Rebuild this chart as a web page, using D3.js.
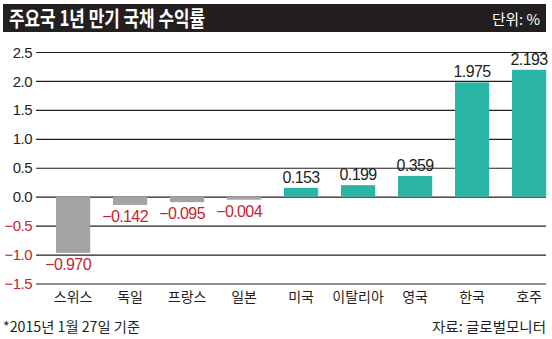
<!DOCTYPE html>
<html>
<head>
<meta charset="utf-8">
<script src="https://cdn.jsdelivr.net/npm/d3@7"></script>
<style>
  html, body { margin: 0; padding: 0; background: #fff; }
  svg { display: block; }
  .num { font-family: "Liberation Sans", Arial, sans-serif; }
  .kr { font-family: "Noto Sans CJK KR", "Noto Sans", sans-serif; }
</style>
</head>
<body>
<svg id="chart" width="552" height="339"></svg>
<script>
const titleText = "주요국 1년 만기 국채 수익률";
const unitText = "단위: %";
const noteText = "*2015년 1월 27일 기준";
const sourceText = "자료: 글로벌모니터";

const categories = ["스위스", "독일", "프랑스", "일본", "미국", "이탈리아", "영국", "한국", "호주"];
const values = [-0.970, -0.142, -0.095, -0.004, 0.153, 0.199, 0.359, 1.975, 2.193];
const valueLabels = ["−0.970", "−0.142", "−0.095", "−0.004", "0.153", "0.199", "0.359", "1.975", "2.193"];
const yTicks = [-1.5, -1.0, -0.5, 0.0, 0.5, 1.0, 1.5, 2.0, 2.5];

const W = 552, H = 339;
const dark = "#231f20";
const red = "#c1272d";
const teal = "#2ab5a6";
const gray = "#a3a3a3";

const svg = d3.select("#chart");

// Title bar
svg.append("rect").attr("x", 3).attr("y", 4).attr("width", 543).attr("height", 28).attr("fill", dark);
svg.append("text").attr("class", "kr")
  .attr("x", 9).attr("y", 26)
  .attr("font-size", 21).attr("font-weight", 700).attr("fill", "#fff")
  .attr("textLength", 196).attr("lengthAdjust", "spacingAndGlyphs")
  .text(titleText);
svg.append("text").attr("class", "kr")
  .attr("x", 540).attr("y", 25).attr("text-anchor", "end")
  .attr("font-size", 15).attr("fill", "#fff")
  .attr("textLength", 48).attr("lengthAdjust", "spacingAndGlyphs")
  .text(unitText);

// Scales
const y = d3.scaleLinear().domain([-1.5, 2.5]).range([283.5, 52]);
const x = d3.scaleBand().domain(categories).range([44.6, 557.6]).paddingInner(0.4).paddingOuter(0.2);
const gridX0 = 36, gridX1 = 546;

// Y axis with gridlines
const yAxis = svg.append("g").attr("transform", `translate(${gridX0},0)`)
  .call(d3.axisLeft(y).tickValues(yTicks).tickFormat(d3.format(".1f"))
        .tickSize(-(gridX1 - gridX0)).tickPadding(4));
yAxis.select(".domain").remove();
yAxis.selectAll(".tick line").attr("stroke", dark).attr("stroke-width", 1.2);
yAxis.selectAll(".tick text")
  .attr("class", "num")
  .attr("font-size", 15)
  .attr("fill", d => d < 0 ? red : dark)
  .attr("dy", "0.34em")
  .attr("letter-spacing", "-0.5");

// Bars
svg.append("g").selectAll("rect").data(values).join("rect")
  .attr("x", (d, i) => x(categories[i]))
  .attr("width", x.bandwidth())
  .attr("y", d => d >= 0 ? y(d) : y(0))
  .attr("height", d => Math.max(3, Math.abs(y(d) - y(0))))
  .attr("fill", d => d >= 0 ? teal : gray);

// Value labels
svg.append("g").selectAll("text").data(values).join("text")
  .attr("class", "num")
  .attr("x", (d, i) => x(categories[i]) + x.bandwidth() / 2 + (d < 0 ? -5 : 0))
  .attr("y", d => d >= 0 ? y(d) - 5 : Math.max(y(d), y(0) + 3) + 17)
  .attr("text-anchor", "middle")
  .attr("font-size", 16)
  .attr("letter-spacing", "-0.6")
  .attr("fill", d => d < 0 ? red : dark)
  .text((d, i) => valueLabels[i]);

// Category axis
const xAxis = svg.append("g").attr("transform", `translate(0,${y(-1.5)})`)
  .call(d3.axisBottom(x).tickSize(0).tickPadding(6));
xAxis.select(".domain").remove();
xAxis.selectAll(".tick text")
  .attr("class", "kr")
  .attr("font-size", 14)
  .attr("fill", dark)
  .attr("dy", "0.9em");

// Footer
svg.append("text").attr("class", "kr")
  .attr("x", 3).attr("y", 332)
  .attr("font-size", 14).attr("fill", dark)
  .attr("textLength", 137).attr("lengthAdjust", "spacingAndGlyphs")
  .text(noteText);
svg.append("text").attr("class", "kr")
  .attr("x", 546).attr("y", 332).attr("text-anchor", "end")
  .attr("font-size", 14).attr("fill", dark)
  .attr("textLength", 114).attr("lengthAdjust", "spacingAndGlyphs")
  .text(sourceText);
</script>
</body>
</html>
